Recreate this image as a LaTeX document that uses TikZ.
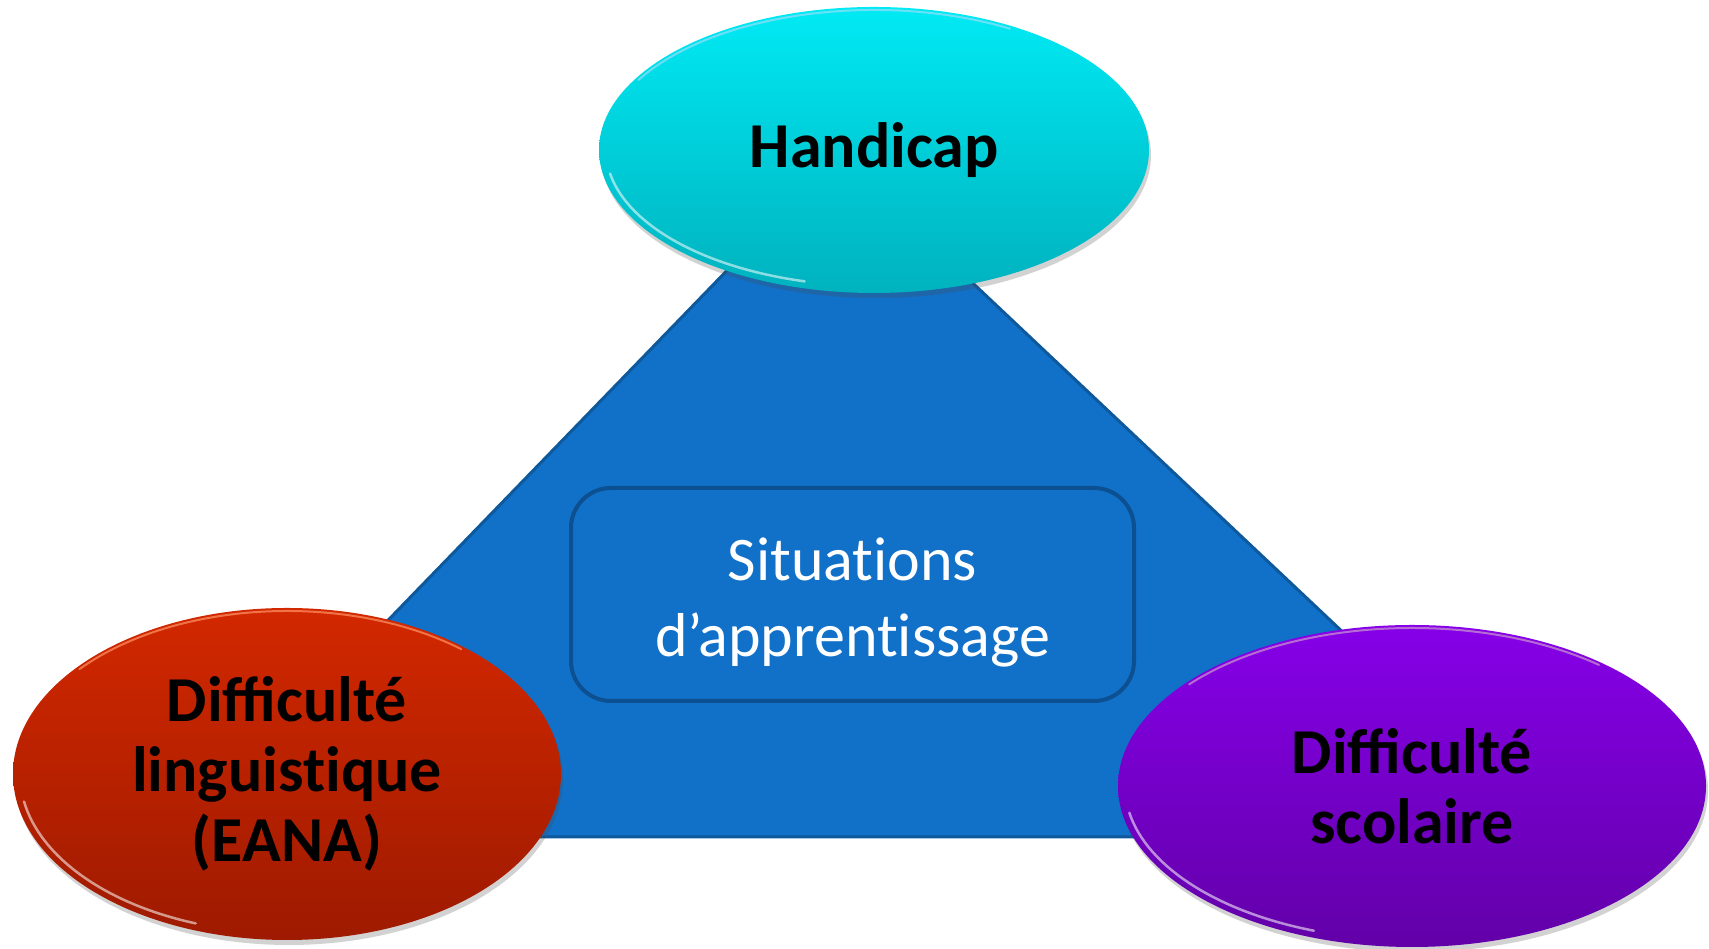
\documentclass[tikz,border=0pt]{standalone}
\usepackage{fontspec}
\setmainfont{Carlito}
\newfontfamily\noligfont{Carlito}[RawFeature=-liga]
\usetikzlibrary{shapes.geometric,shadows}
\definecolor{triblue}{RGB}{17,112,200}
\definecolor{triedge}{RGB}{14,88,156}
\definecolor{boxedge}{RGB}{12,80,145}
\definecolor{cyantop}{RGB}{0,234,244}
\definecolor{cyanbot}{RGB}{0,178,190}
\definecolor{redtop}{RGB}{210,40,0}
\definecolor{redbot}{RGB}{158,26,0}
\definecolor{purtop}{RGB}{134,0,232}
\definecolor{purbot}{RGB}{98,0,168}
\tikzset{
  bubble/.style={ellipse, inner sep=0pt, align=center, text=black,
    font=\bfseries\fontsize{64}{70}\selectfont,
    drop shadow={shadow xshift=2pt, shadow yshift=-5pt, opacity=0.25, fill=black!70}},
  centerbox/.style={rounded corners=40pt, draw=boxedge, line width=4pt, fill=triblue,
    minimum width=563pt, minimum height=213pt},
  centertext/.style={align=center, text=white, inner sep=0pt,
    font=\noligfont\fontsize{62}{76}\selectfont},
  shine/.style={white, opacity=0.55, line width=2.5pt, line cap=round},
  toprim/.style={opacity=0.7, line width=2pt, line cap=round}
}
\begin{document}
\begin{tikzpicture}[x=1pt,y=1pt]
\useasboundingbox (0,0) rectangle (1709,949);
\fill[white] (0,0) rectangle (1709,949);
% triangle
\coordinate (apex) at (838,793);
\coordinate (bl) at (178,112);
\coordinate (br) at (1560,112);
\filldraw[fill=triblue, draw=triedge, line width=3pt, line join=miter] (apex) -- (bl) -- (br) -- cycle;
% central box
\node[centerbox] (sitbox) at (852.5,354.5) {};
\node[centertext] (sit) at (852.5,346) {Situations\\d’apprentissage};
% ellipses
\node[bubble, minimum width=550pt, minimum height=286pt, top color=cyantop, bottom color=cyanbot] (hand) at (874,799) {Handicap};
\node[bubble, minimum width=548pt, minimum height=332pt, top color=redtop, bottom color=redbot] (ling) at (287,175) {Difficulté\\linguist\kern0pt ique\\(EANA)};
\node[bubble, minimum width=588pt, minimum height=322pt, top color=purtop, bottom color=purbot] (scol) at (1412,163) {Difficulté\\scolaire};
% glossy rims
\draw[shine] ([shift={(190:268 and 136)}]hand.center) arc[start angle=190, end angle=255, x radius=268, y radius=136];
\draw[toprim, cyan!40!white] ([shift={(60:272 and 140)}]hand.center) arc[start angle=60, end angle=150, x radius=272, y radius=140];
\draw[shine] ([shift={(190:267 and 159)}]ling.center) arc[start angle=190, end angle=250, x radius=267, y radius=159];
\draw[toprim, red!40!orange!60!white] ([shift={(50:271 and 163)}]ling.center) arc[start angle=50, end angle=140, x radius=271, y radius=163];
\draw[shine] ([shift={(190:287 and 154)}]scol.center) arc[start angle=190, end angle=250, x radius=287, y radius=154];
\draw[toprim, violet!40!white] ([shift={(50:291 and 158)}]scol.center) arc[start angle=50, end angle=140, x radius=291, y radius=158];
\end{tikzpicture}
\end{document}
